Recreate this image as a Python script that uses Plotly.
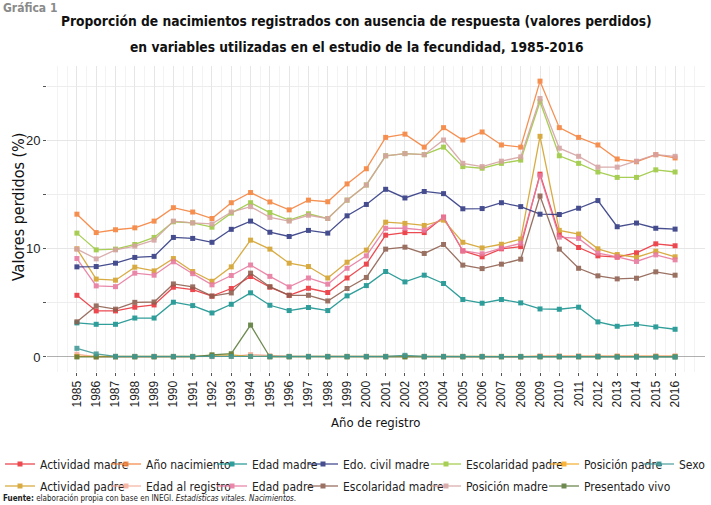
import plotly.graph_objects as go

years = list(range(1985, 2017))

actividad_madre = [5.7, 4.26, 4.26, 4.6, 4.81, 6.45, 6.23, 5.62, 6.33, 7.44, 6.45, 5.7, 6.35, 5.96, 7.3, 8.58,
                   11.26, 11.5, 11.5, 12.93, 9.8, 9.26, 10.0, 10.2, 16.9, 11.33, 10.12, 9.35, 9.23, 9.63, 10.46, 10.28]
actividad_padre = [10.0, 7.2, 7.1, 8.3, 7.96, 9.1, 7.9, 7.0, 8.33, 10.8, 9.97, 8.67, 8.36, 7.3, 8.76, 9.88,
                   12.46, 12.35, 12.16, 12.65, 10.6, 10.08, 10.42, 10.9, 20.4, 11.7, 11.36, 10.0, 9.47, 9.22, 9.78, 9.26]
ano_nacimiento = [13.2, 11.5, 11.76, 11.94, 12.56, 13.8, 13.4, 12.8, 14.26, 15.2, 14.33, 13.6, 14.5, 14.35, 16.0, 17.4,
                  20.3, 20.6, 19.4, 21.2, 20.06, 20.8, 19.6, 19.4, 25.5, 21.2, 20.3, 19.6, 18.3, 18.05, 18.7, 18.4]
edad_al_registro = [0.25, 0.0, 0.02, 0.03, 0.03, 0.03, 0.03, 0.03, 0.05, 0.22, 0.1, 0.05, 0.05, 0.05, 0.05, 0.05,
                    0.05, 0.05, 0.05, 0.05, 0.05, 0.05, 0.05, 0.0, 0.1, 0.1, 0.1, 0.1, 0.1, 0.1, 0.1, 0.1]
edad_madre = [3.15, 3.02, 3.02, 3.6, 3.6, 5.06, 4.75, 4.07, 4.87, 5.93, 4.78, 4.29, 4.57, 4.29, 5.65, 6.6,
              7.9, 6.94, 7.56, 6.79, 5.31, 4.97, 5.31, 5.0, 4.44, 4.41, 4.6, 3.24, 2.84, 3.02, 2.78, 2.56]
edad_padre = [9.1, 6.57, 6.5, 7.75, 7.56, 8.8, 7.7, 6.67, 7.53, 8.5, 7.45, 6.48, 7.3, 6.73, 8.2, 9.35,
              11.9, 11.9, 11.72, 12.9, 9.82, 9.54, 10.06, 10.5, 16.76, 11.08, 10.96, 9.6, 9.26, 8.83, 9.44, 8.98]
edo_civil_madre = [8.33, 8.36, 8.67, 9.2, 9.3, 11.05, 10.96, 10.6, 11.8, 12.56, 11.53, 11.14, 11.7, 11.45, 13.05, 14.1,
                   15.5, 14.7, 15.3, 15.1, 13.7, 13.72, 14.26, 13.9, 13.2, 13.17, 13.75, 14.46, 12.04, 12.38, 11.9, 11.82]
escolaridad_madre = [3.25, 4.72, 4.42, 5.05, 5.08, 6.75, 6.48, 5.63, 5.92, 7.75, 6.5, 5.7, 5.7, 5.18, 6.33, 7.35,
                     9.97, 10.15, 9.57, 10.4, 8.49, 8.17, 8.58, 9.04, 14.88, 9.97, 8.2, 7.5, 7.22, 7.28, 7.87, 7.56]
escolaridad_padre = [11.45, 9.9, 9.97, 10.4, 11.05, 12.5, 12.4, 12.0, 13.3, 14.26, 13.35, 12.65, 13.24, 12.8, 14.5, 15.9,
                     18.6, 18.8, 18.7, 19.4, 17.6, 17.45, 17.9, 18.2, 23.6, 18.6, 17.9, 17.1, 16.6, 16.6, 17.3, 17.1]
posicion_madre = [9.97, 9.07, 9.9, 10.25, 10.8, 12.56, 12.4, 12.3, 13.4, 13.9, 12.9, 12.56, 13.1, 12.8, 14.5, 15.9,
                  18.6, 18.8, 18.7, 20.06, 17.9, 17.6, 18.1, 18.5, 23.9, 19.3, 18.55, 17.55, 17.55, 18.1, 18.7, 18.55]
posicion_padre = [0.05, 0.05, 0.05, 0.05, 0.05, 0.05, 0.05, 0.15, 0.2, 0.05, 0.05, 0.05, 0.05, 0.05, 0.05, 0.05,
                  0.05, 0.05, 0.05, 0.05, 0.05, 0.05, 0.05, 0.05, 0.05, 0.05, 0.05, 0.05, 0.05, 0.05, 0.05, 0.05]
presentado_vivo = [0.0, 0.0, 0.0, 0.0, 0.0, 0.0, 0.0, 0.2, 0.3, 2.95, 0.0, 0.0, 0.0, 0.0, 0.0, 0.0,
                   0.0, 0.0, 0.0, 0.0, 0.0, 0.0, 0.0, 0.0, 0.0, 0.0, 0.0, 0.0, 0.0, 0.0, 0.0, 0.0]
sexo = [0.8, 0.28, 0.06, 0.05, 0.05, 0.05, 0.05, 0.05, 0.05, 0.05, 0.05, 0.05, 0.05, 0.05, 0.05, 0.05,
        0.05, 0.15, 0.05, 0.05, 0.05, 0.05, 0.05, 0.05, 0.05, 0.05, 0.05, 0.05, 0.0, 0.0, 0.0, 0.0]

series_names = ["Actividad madre", "Actividad padre", "Año nacimiento", "Edad al registro", "Edad madre",
                "Edad padre", "Edo. civil madre", "Escolaridad madre", "Escolaridad padre", "Posición madre",
                "Posición padre", "Presentado vivo", "Sexo"]
series_values = [actividad_madre, actividad_padre, ano_nacimiento, edad_al_registro, edad_madre, edad_padre,
                 edo_civil_madre, escolaridad_madre, escolaridad_padre, posicion_madre, posicion_padre,
                 presentado_vivo, sexo]
series_colors = ["#EA3239", "#D4A12A", "#F5813A", "#F6AE9C", "#14918D", "#E8789F", "#2D3680", "#8D5E4D",
                 "#9CC83E", "#D6A2A2", "#F8AA22", "#5C7B3A", "#3E9896"]

FONT = "DejaVu Sans Condensed, DejaVu Sans, sans-serif"
W, H = 711, 505
ML, MR, MT, MB = 47, 6, 66, 133
PW = W - ML - MR

# legend grid: column text starts (px) and row centres (px from top)
col_text_px = [30, 146, 252, 343, 466, 584, 685]
row_center_px = [464, 486]

fig = go.Figure()
legend_layouts = {}
for i, (name, vals, col) in enumerate(zip(series_names, series_values, series_colors)):
    key = "legend" if i == 0 else f"legend{i + 1}"
    fig.add_trace(go.Scatter(
        x=years, y=vals, name=name, mode="lines+markers",
        line=dict(color=col, width=1.3),
        marker=dict(symbol="square", size=5, color=col),
        opacity=0.88, legend=key,
    ))
    c, r = i // 2, i % 2
    legend_layouts[key] = dict(
        xref="paper", yref="container",
        x=(col_text_px[c] - 40 - ML) / PW, y=(H - row_center_px[r]) / H,
        xanchor="left", yanchor="middle", orientation="h",
        font=dict(family=FONT, size=12, color="#222222"),
        bgcolor="rgba(0,0,0,0)", itemwidth=30,
    )

fig.update_layout(
    width=W, height=H,
    margin=dict(l=ML, r=MR, t=MT, b=MB),
    paper_bgcolor="white", plot_bgcolor="white",
    font=dict(family=FONT, color="#222222"),
    showlegend=True,
    **legend_layouts,
)

fig.update_xaxes(
    range=[1983.45, 2017.55], tickmode="array", tickvals=years, ticktext=[str(y) for y in years],
    tickangle=-90, ticks="outside", ticklen=3, tickcolor="#555555",
    tickfont=dict(family="Liberation Sans, Arial, sans-serif", size=12, color="#222222"),
    showgrid=True, gridcolor="#E6E6E6", gridwidth=1.3,
    minor=dict(dtick=0.5, tick0=1985, showgrid=True, gridcolor="#F3F3F3", gridwidth=1),
    zeroline=False, showline=False,
)
fig.update_yaxes(
    range=[-1.39, 26.9], tickmode="linear", tick0=0, dtick=10,
    ticks="outside", ticklen=3, tickcolor="#555555",
    tickfont=dict(family="Liberation Sans, Arial, sans-serif", size=13, color="#222222"),
    showgrid=True, gridcolor="#E6E6E6", gridwidth=1.3,
    minor=dict(dtick=5, tick0=0, ticks="outside", ticklen=3, tickcolor="#555555",
               showgrid=True, gridcolor="#EDEDED", gridwidth=1),
    zeroline=True, zerolinecolor="#B0B0B0", zerolinewidth=1.2, showline=False,
)

def px_x(p):
    return (p - ML) / PW

def px_y(p):
    return (H - MB - p) / (H - MT - MB)

annotations = [
    dict(text="Gráfica 1", xref="paper", yref="paper", x=px_x(1), y=px_y(8), xanchor="left", yanchor="middle",
         showarrow=False, font=dict(family=FONT, size=12, color="#8A8A8A", weight="bold")),
    dict(text="Proporción de nacimientos registrados con ausencia de respuesta (valores perdidos)",
         xref="paper", yref="paper", x=px_x(356), y=px_y(21), xanchor="center", yanchor="middle", showarrow=False,
         font=dict(family=FONT, size=13.7, color="#111111", weight="bold")),
    dict(text="en variables utilizadas en el estudio de la fecundidad, 1985-2016",
         xref="paper", yref="paper", x=px_x(357), y=px_y(47), xanchor="center", yanchor="middle", showarrow=False,
         font=dict(family=FONT, size=13.7, color="#111111", weight="bold")),
    dict(text="Valores perdidos (%)", xref="paper", yref="paper", x=px_x(18), y=px_y(207), textangle=-90,
         xanchor="center", yanchor="middle", showarrow=False,
         font=dict(family=FONT, size=16, color="#111111")),
    dict(text="Año de registro", xref="paper", yref="paper", x=px_x(375), y=px_y(422), xanchor="center",
         yanchor="middle", showarrow=False, font=dict(family=FONT, size=13, color="#111111")),
    dict(text="<b>Fuente:</b> elaboración propia con base en INEGI. <i>Estadísticas vitales. Nacimientos</i>.",
         xref="paper", yref="paper", x=px_x(1), y=px_y(498), xanchor="left", yanchor="middle", showarrow=False,
         font=dict(family=FONT, size=8, color="#222222")),
]
fig.update_layout(annotations=annotations)

fig.write_html("out.html", config={"displayModeBar": False},
               post_script="document.body.style.margin='0';document.body.style.overflow='hidden';")
